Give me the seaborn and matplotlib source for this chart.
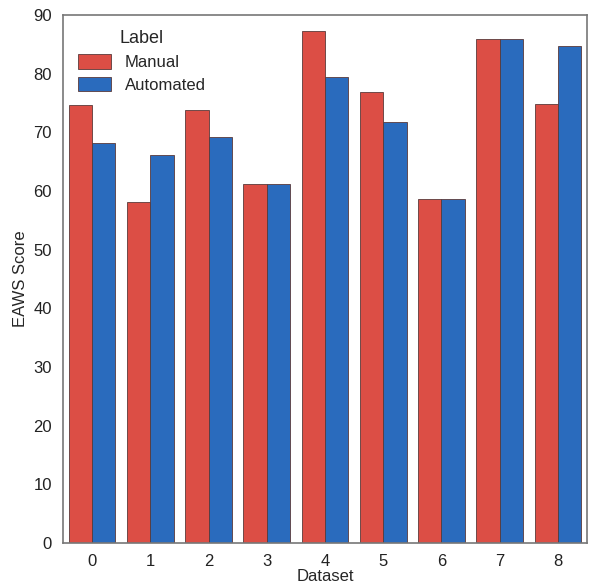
import matplotlib
matplotlib.use("Agg")
import matplotlib.pyplot as plt
import seaborn as sns
import pandas as pd

# data
datasets = [0, 1, 2, 3, 4, 5, 6, 7, 8]
manual = [74.6, 58.1, 73.8, 61.2, 87.2, 76.8, 58.6, 85.9, 74.8]
automated = [68.1, 66.1, 69.2, 61.2, 79.4, 71.7, 58.6, 85.9, 84.8]
labels = ["Manual", "Automated"]

df = pd.DataFrame({
    "Dataset": datasets * 2,
    "EAWS Score": manual + automated,
    "Label": [labels[0]] * len(datasets) + [labels[1]] * len(datasets),
})

sns.set_theme(style="white")
plt.rcParams["font.family"] = ["Liberation Sans", "DejaVu Sans"]

fig = plt.figure(figsize=(5.9, 5.87), dpi=100)
ax = fig.add_axes([63 / 590, 44 / 587, 524 / 590, 528 / 587])

sns.barplot(
    data=df, x="Dataset", y="EAWS Score", hue="Label",
    palette=["#dc4e45", "#2a6bbd"], saturation=1,
    edgecolor="#5a3a3a", linewidth=0.6, width=0.8, ax=ax,
)

ax.set_ylim(0, 90)
ax.set_yticks(range(0, 91, 10))
ax.tick_params(labelsize=12, colors="#222222", pad=2)
ax.set_xlabel("Dataset", fontsize=12, labelpad=0)
ax.set_ylabel("EAWS Score", fontsize=12, labelpad=4)
for s in ax.spines.values():
    s.set_color("#777777")
    s.set_linewidth(1.2)

leg = ax.legend(title="Label", loc="upper left", frameon=False, fontsize=12,
                title_fontsize=13, handlelength=2.0, handleheight=1.0,
                borderaxespad=0.5, labelspacing=0.4)

fig.savefig("out.png", dpi=100)
